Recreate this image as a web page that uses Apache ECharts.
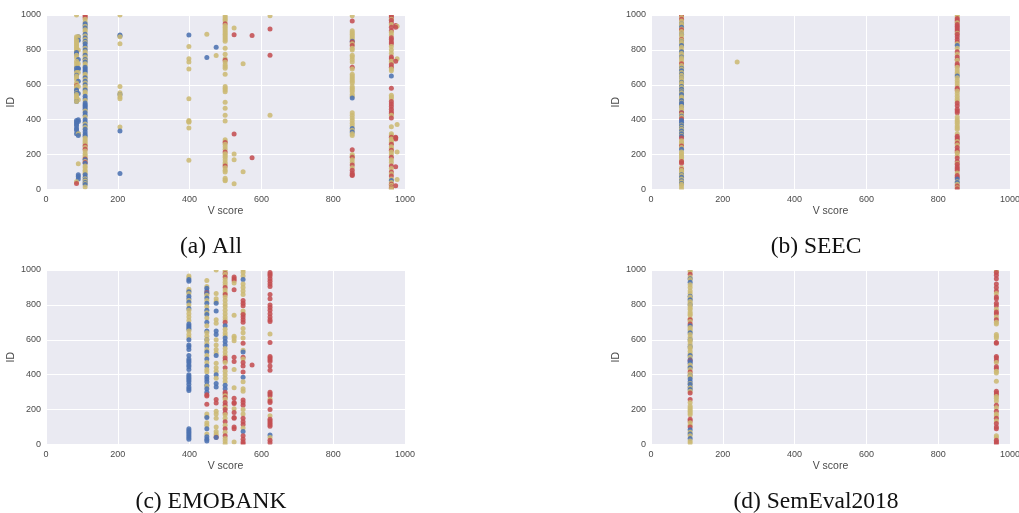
<!DOCTYPE html>
<html><head><meta charset="utf-8">
<script src="https://cdn.jsdelivr.net/npm/echarts@6/dist/echarts.min.js"></script>
<style>html,body{margin:0;padding:0;background:#fff}#c{width:1019px;height:513px}</style></head>
<body><div id="c"></div>
<script>
const panelNames = ['(a) All','(b) SEEC','(c) EMOBANK','(d) SemEval2018'];
const captionCentres = [[211,247],[816,247],[211,502],[816,502]];
const xTicks = [0,200,400,600,800,1000];

// Panel (a): [x score, ids]
const aBlue = [
 [85,[785,775,695,680,655,570,560,550,505,395,385,375,365,350,340,320]],
 [90,[875,855,745,695,690,620,550,400,390,320,310,85,75,60]],
 [109,[950,940,925,890,868,850,835,820,800,770,745,730,700,690,680,670,640,620,600,570,535,520,495,485,478,470,460,440,425,400,385,365,345,330,315,305,170,150,85,70,55,40,28]],
 [206,[885,880,545,335,92]],[398,[885]],[448,[757]],[474,[815]],
 [853,[850,525,350,330]],[962,[650,52]]
];
const aGold = [
 [85,[1000,875,865,855,845,835,825,815,805,795,770,755,735,720,705,670,650,640,630,610,600,590,580,555,545,535,525,515,505,45]],
 [90,[875,800,720,670,590,515,320,148]],
 [109,[1000,975,960,935,915,905,880,860,842,810,790,780,760,750,738,720,710,660,650,630,610,590,580,560,550,510,450,415,375,355,295,285,275,265,255,240,220,205,195,185,160,135,125,110,100,90,62,48,35,15]],
 [206,[1000,875,835,590,555,545,530,520,358]],
 [398,[820,750,730,690,520,395,390,385,352,167]],[448,[890]],[474,[768]],
 [499,[995,985,975,965,940,930,920,910,900,890,880,870,860,850,810,775,750,730,715,705,695,660,590,580,570,560,500,465,425,392,285,275,260,245,230,205,195,185,170,155,145,125,110,100,65,55,50]],
 [524,[925,203,170,33]],[549,[720,102]],[624,[995,425]],
 [853,[995,910,900,890,880,870,860,835,810,800,770,760,745,730,690,660,650,640,630,620,610,590,580,570,560,545,535,440,425,410,395,380,365,340,320,310,200,190,170,155,125]],
 [962,[1000,975,945,900,885,820,800,780,735,725,690,680,540,530,520,425,360,320,310,290,280,270,245,235,215,200,170,155,120,90,60,40,25,10,3]],
 [978,[935,750,372,215,57]]
];
const aRed = [
 [85,[595,35]],
 [109,[995,985,250,230,175,155]],
 [499,[950,740,270,215,135]],[524,[887,318]],[574,[883,182]],[624,[920,770]],
 [853,[965,845,825,700,228,185,140,110,95,85,80]],
 [962,[995,985,970,955,930,910,870,860,845,835,760,750,715,700,580,505,490,475,460,445,435,410,300,260,225,185,135,100,78,30,15,5]],
 [974,[940,930,735,300,295,290,130,22]]
];

// Panel (b)
const bBlue = [
 [85,[950,930,890,845,825,790,760,695,680,660,640,615,590,575,560,545,530,510,495,485,475,440,420,395,385,375,365,350,335,320,305,230,85,70,50,35]],
 [853,[825,650,60,40]]
];
const bGold = [
 [85,[1000,985,965,950,940,920,905,890,875,855,845,835,815,800,780,770,755,745,730,710,700,690,670,655,640,625,610,600,585,565,555,530,520,500,475,460,450,430,415,370,355,345,325,310,280,270,265,255,240,215,205,195,185,175,160,125,110,105,95,80,60,45,30,20,5]],
 [240,[730]],
 [853,[1000,990,955,895,835,810,775,740,700,685,670,660,640,625,610,595,565,550,535,520,510,415,400,390,380,365,355,345,320,275,255,210,195,150,95,45,30,10]]
];
const bRed = [
 [85,[995,975,915,860,720,440,405,295,250,160,150,115]],
 [853,[980,970,960,945,935,925,915,905,890,875,860,845,790,760,745,720,710,580,570,495,480,460,450,440,305,295,285,265,240,225,215,180,160,145,130,120,110,80,70,20,5]]
];

// Panel (c)
const cBlue = [
 [398,[945,935,875,850,835,815,780,690,680,670,660,600,570,560,545,510,490,480,470,455,445,430,400,390,380,370,360,345,330,320,310,90,80,70,60,50,40,30]],
 [448,[895,880,865,840,810,770,745,700,650,600,565,530,490,450,390,375,360,340,320,300,155,90,45,30,20]],
 [474,[810,765,650,630,510,400,350,330,40]],
 [499,[680,610,590,570,340,320]],
 [549,[945,530,385,75]],[624,[55]]
];
const cGold = [
 [398,[965,955,890,880,865,825,800,770,750,730,710,650,630,615]],
 [448,[940,905,855,825,790,755,725,680,640,620,600,580,545,510,470,430,415,335,175,160,125,110,60]],
 [474,[1000,865,835,820,715,695,600,570,545,525,465,440,420,380,190,175,150,100,75,60,50]],
 [499,[1000,990,975,945,930,915,885,870,845,825,805,790,770,750,730,715,660,640,625,550,530,510,470,420,400,380,360,280,260,210,170,150,110,70,35,20,5]],
 [524,[925,740,620,610,595,430,325,205,15]],
 [549,[1000,985,965,920,900,880,860,765,750,665,640,610,540,490,360,320,305,200,175,95]],
 [624,[633,260,165,40]]
];
const cRed = [
 [448,[870,285,278,230]],[474,[258,238,42]],
 [499,[980,960,900,860,700,495,480,440,300,290,270,240,225,200,180,130,90,50]],
 [524,[960,950,940,887,500,475,265,240,235,183,155,150,100,90]],
 [549,[825,810,795,745,730,715,700,580,500,470,450,415,255,240,225,150,130,115,50,30,15,5]],
 [574,[455]],
 [624,[985,975,965,950,935,920,905,860,835,800,785,770,750,730,715,705,585,505,495,485,475,450,425,300,290,280,250,240,200,145,135,125,115,105,25,10]]
];

// Panel (d)
const dBlue = [
 [109,[950,930,850,830,800,680,640,600,560,510,485,475,465,440,395,375,360,345,330,315,85,60,35]]
];
const dGold = [
 [109,[1000,990,960,945,915,900,880,865,845,835,820,810,800,785,775,760,750,740,720,705,670,660,650,630,615,600,590,575,560,550,535,520,500,455,445,430,405,395,385,350,325,305,240,220,210,200,190,180,170,125,110,70,50,20,8]],
 [962,[1000,990,865,775,730,700,690,630,620,610,470,420,410,362,275,265,250,210,175,165,135,50,40]]
];
const dRed = [
 [109,[975,715,690,480,415,295,258,145,135,100]],
 [962,[985,970,950,920,900,880,845,835,810,795,760,750,715,585,580,505,495,480,445,435,305,295,285,225,190,150,120,100,90,25,15,5]]
];

const colours=['#4C72B0','#CCB974','#C44E52'];
const panels = [
 {l:46,t:15,b:[aBlue,aGold,aRed]},
 {l:651,t:15,b:[bBlue,bGold,bRed]},
 {l:46,t:270,b:[cBlue,cGold,cRed]},
 {l:651,t:270,b:[dBlue,dGold,dRed]}
];
const W=359,H=174.5;
// one series per panel, drawn in ID order so the three colours interleave in the dense columns
const merged = groups => groups.flatMap((cols,k)=>cols.flatMap(([x,ids])=>ids.map(id=>({value:[x,id],itemStyle:{color:colours[k]}})))).sort((p,q)=>q.value[1]-p.value[1]);
const font='"Liberation Sans",Arial,sans-serif';
const opt = {animation:false,backgroundColor:'#fff',grid:[],xAxis:[],yAxis:[],series:[],graphic:[]};
panels.forEach((p,i)=>{
 opt.grid.push({left:p.l,top:p.t,width:W,height:H,show:true,backgroundColor:'#EAEAF2',borderWidth:0,outerBoundsMode:'none'});
 const lab={color:'#4a4a4a',fontSize:9,fontFamily:font,formatter:v=>String(v)};
 opt.xAxis.push({gridIndex:i,type:'value',min:0,max:1000,interval:200,
  axisLine:{show:false},axisTick:{show:false},splitLine:{show:true,lineStyle:{color:'#fff',width:1}},
  axisLabel:Object.assign({margin:6,hideOverlap:false,showMinLabel:true,showMaxLabel:true},lab),
  name:'V score',nameLocation:'middle',nameGap:15,nameTextStyle:{color:'#4a4a4a',fontSize:10.5,fontFamily:font}});
 opt.yAxis.push({gridIndex:i,type:'value',min:0,max:1000,interval:200,
  axisLine:{show:false},axisTick:{show:false},splitLine:{show:true,lineStyle:{color:'#fff',width:1}},
  axisLabel:Object.assign({margin:5,padding:[2,0,0,0],showMinLabel:true,showMaxLabel:true},lab),
  name:'ID',nameLocation:'middle',nameGap:26,nameTextStyle:{color:'#4a4a4a',fontSize:10.5,fontFamily:font}});
 opt.series.push({type:'scatter',xAxisIndex:i,yAxisIndex:i,data:merged(p.b),symbolSize:5,clip:true,
   itemStyle:{opacity:0.88},silent:true});
 // white strips trim markers that overhang the plot's top and bottom edges
 opt.graphic.push({type:'rect',z:50,silent:true,shape:{x:p.l,y:p.t-4,width:W,height:4},style:{fill:'#fff'}});
 opt.graphic.push({type:'rect',z:50,silent:true,shape:{x:p.l,y:p.t+H,width:W,height:3},style:{fill:'#fff'}});
 opt.graphic.push({type:'text',z:51,silent:true,x:captionCentres[i][0],y:captionCentres[i][1],
  style:{text:panelNames[i],align:'center',verticalAlign:'middle',fill:'#111',
   font:'23.5px "Liberation Serif","Times New Roman",serif'}});
});
echarts.init(document.getElementById('c'),null,{renderer:'canvas'}).setOption(opt);
</script></body></html>
